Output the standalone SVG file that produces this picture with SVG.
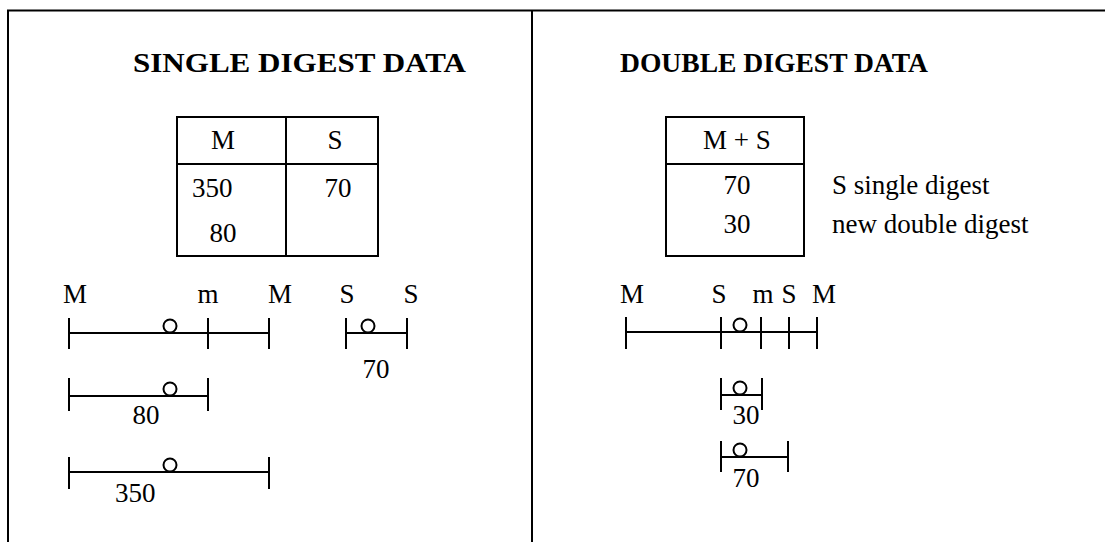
<svg xmlns="http://www.w3.org/2000/svg" width="1105" height="542" viewBox="0 0 1105 542">
<style>
.ln{stroke:#000;stroke-width:2;fill:none}
.t{font-family:"Liberation Serif","Times New Roman",serif;font-size:27px;fill:#000}
.h{font-family:"Liberation Serif","Times New Roman",serif;font-size:28px;font-weight:bold;fill:#000}
.c{stroke:#000;stroke-width:2;fill:#fff}
</style>
<rect width="1105" height="542" fill="#fff"/>
<g id="frame">
<line class="ln" x1="7" y1="10.5" x2="1105" y2="10.5"/>
<line class="ln" x1="8" y1="10" x2="8" y2="542"/>
<line class="ln" x1="532" y1="10" x2="532" y2="542"/>
</g>
<g id="single-title"><text class="h" x="133" y="72" textLength="333" lengthAdjust="spacingAndGlyphs">SINGLE DIGEST DATA</text></g>
<g id="single-table">
<rect class="ln" x="177" y="117" width="201" height="139"/>
<line class="ln" x1="177" y1="164" x2="378" y2="164"/>
<line class="ln" x1="286" y1="117" x2="286" y2="256"/>
<text class="t" x="223" y="149" text-anchor="middle">M</text>
<text class="t" x="335" y="149" text-anchor="middle">S</text>
<text class="t" x="192" y="197">350</text>
<text class="t" x="338" y="197" text-anchor="middle">70</text>
<text class="t" x="223" y="242" text-anchor="middle">80</text>
</g>
<g id="single-map">
<text class="t" x="75" y="303" text-anchor="middle">M</text>
<text class="t" x="208" y="303" text-anchor="middle">m</text>
<text class="t" x="280" y="303" text-anchor="middle">M</text>
<text class="t" x="347" y="303" text-anchor="middle">S</text>
<text class="t" x="411" y="303" text-anchor="middle">S</text>
<line class="ln" x1="69" y1="333" x2="269" y2="333"/>
<line class="ln" x1="69" y1="318" x2="69" y2="349"/>
<line class="ln" x1="208" y1="318" x2="208" y2="349"/>
<line class="ln" x1="269" y1="318" x2="269" y2="349"/>
<circle class="c" cx="170" cy="326" r="6.5"/>
<line class="ln" x1="346" y1="333" x2="407" y2="333"/>
<line class="ln" x1="346" y1="318" x2="346" y2="349"/>
<line class="ln" x1="407" y1="318" x2="407" y2="349"/>
<circle class="c" cx="368" cy="326" r="6.5"/>
<text class="t" x="376" y="378" text-anchor="middle">70</text>
</g>
<g id="single-80">
<line class="ln" x1="69" y1="396" x2="208" y2="396"/>
<line class="ln" x1="69" y1="378" x2="69" y2="411"/>
<line class="ln" x1="208" y1="378" x2="208" y2="411"/>
<circle class="c" cx="170" cy="389" r="6.5"/>
<text class="t" x="146" y="424" text-anchor="middle">80</text>
</g>
<g id="single-350">
<line class="ln" x1="69" y1="472" x2="269" y2="472"/>
<line class="ln" x1="69" y1="457" x2="69" y2="489"/>
<line class="ln" x1="269" y1="457" x2="269" y2="489"/>
<circle class="c" cx="170" cy="465" r="6.5"/>
<text class="t" x="115" y="502">350</text>
</g>
<g id="double-title"><text class="h" x="620" y="72" textLength="308" lengthAdjust="spacingAndGlyphs">DOUBLE DIGEST DATA</text></g>
<g id="double-table">
<rect class="ln" x="666" y="117" width="138" height="139"/>
<line class="ln" x1="666" y1="164" x2="804" y2="164"/>
<text class="t" x="737" y="149" text-anchor="middle">M + S</text>
<text class="t" x="737" y="194" text-anchor="middle">70</text>
<text class="t" x="737" y="233" text-anchor="middle">30</text>
<text class="t" x="832" y="194">S single digest</text>
<text class="t" x="832" y="233">new double digest</text>
</g>
<g id="double-map">
<text class="t" x="632" y="303" text-anchor="middle">M</text>
<text class="t" x="719" y="303" text-anchor="middle">S</text>
<text class="t" x="763" y="303" text-anchor="middle">m</text>
<text class="t" x="789" y="303" text-anchor="middle">S</text>
<text class="t" x="824" y="303" text-anchor="middle">M</text>
<line class="ln" x1="626" y1="332" x2="817" y2="332"/>
<line class="ln" x1="626" y1="317" x2="626" y2="349"/>
<line class="ln" x1="721" y1="317" x2="721" y2="349"/>
<line class="ln" x1="761" y1="317" x2="761" y2="349"/>
<line class="ln" x1="789" y1="317" x2="789" y2="349"/>
<line class="ln" x1="817" y1="317" x2="817" y2="349"/>
<circle class="c" cx="740" cy="325" r="6.5"/>
</g>
<g id="double-30">
<line class="ln" x1="721" y1="395" x2="762" y2="395"/>
<line class="ln" x1="721" y1="378" x2="721" y2="410"/>
<line class="ln" x1="762" y1="378" x2="762" y2="410"/>
<circle class="c" cx="740" cy="388" r="6.5"/>
<text class="t" x="746" y="424" text-anchor="middle">30</text>
</g>
<g id="double-70">
<line class="ln" x1="721" y1="457" x2="788" y2="457"/>
<line class="ln" x1="721" y1="441" x2="721" y2="472"/>
<line class="ln" x1="788" y1="441" x2="788" y2="472"/>
<circle class="c" cx="740" cy="450" r="6.5"/>
<text class="t" x="746" y="487" text-anchor="middle">70</text>
</g>
</svg>
